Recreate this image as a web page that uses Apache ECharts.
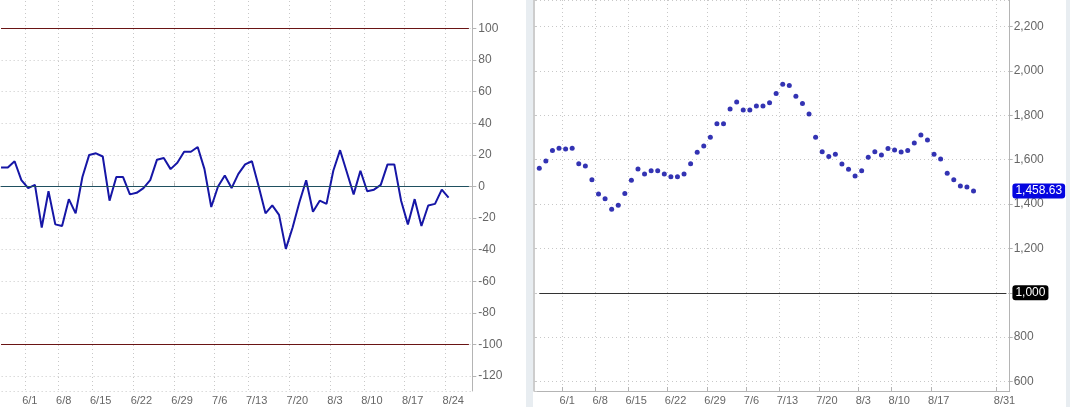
<!DOCTYPE html>
<html lang="en">
<head>
  <meta charset="UTF-8">
  <title>Oscillator and index</title>
  <script src="https://cdn.jsdelivr.net/npm/echarts@6/dist/echarts.min.js"></script>
  <style>
    html, body { margin: 0; padding: 0; background: #fff; }
    #chart { width: 1070px; height: 407px; }
  </style>
</head>
<body>
<div id="chart"></div>
<script>
  // ---- data ----
  const leftValues = [12, 12, 16, 4, -1, 1, -26, -3, -24, -25,
    -8, -17, 6, 20, 21, 19, -9, 6, 6, -5,
    -4, -1, 4, 17, 18, 11, 15, 22, 22, 25,
    11, -13, 0, 7, -1, 8, 14, 16, 0, -17,
    -12, -18, -39.5, -26, -10, 4, -16, -9, -11, 10,
    23, 9, -5, 10, -3, -2, 1, 14, 14, -9,
    -24, -8, -25, -12, -11, -2, -7];
  const rightValues = [1561, 1594, 1641, 1651, 1648, 1651, 1582, 1572, 1510, 1445,
    1424, 1376, 1394, 1448, 1507, 1558, 1535, 1550, 1550, 1535,
    1523, 1523, 1535, 1582, 1633, 1662, 1701, 1762, 1762, 1829,
    1860, 1824, 1824, 1842, 1842, 1857, 1898, 1940, 1934, 1886,
    1853, 1806, 1701, 1636, 1614, 1624, 1581, 1557, 1526, 1550,
    1611, 1636, 1621, 1650, 1644, 1635, 1641, 1675, 1711, 1689,
    1624, 1603, 1539, 1510, 1481, 1477, 1458.63];
  const leftTickAt = [4, 9, 14, 20, 26, 32, 37, 43, 49, 54, 60, 66];
  const leftTickLabels = ['6/1', '6/8', '6/15', '6/22', '6/29', '7/6', '7/13', '7/20', '8/3', '8/10', '8/17', '8/24'];
  const rightTickAt = [4, 9, 14, 20, 26, 32, 37, 43, 49, 54, 60, 70];
  const rightTickLabels = ['6/1', '6/8', '6/15', '6/22', '6/29', '7/6', '7/13', '7/20', '8/3', '8/10', '8/17', '8/31'];
  const leftBands = 70;
  const rightBands = 72;
  const bandLevels = [100, -100];
  const refLevel = 1000;

  const leftCats = Array.from({length: leftBands}, (_, i) => String(i));
  const rightCats = Array.from({length: rightBands}, (_, i) => String(i));
  const lastValue = rightValues[rightValues.length - 1];

  const font = '"Liberation Sans", Arial, sans-serif';
  const gridDots = {show: true, lineStyle: {color: '#c8c8c8', type: [1, 3], width: 1}};
  const axisGray = {show: true, lineStyle: {color: '#b4b4b4', width: 1}};

  function xAxisFor(gridIndex, cats, tickAt, labels) {
    const on = (i) => tickAt.indexOf(i) >= 0;
    return {
      type: 'category', gridIndex: gridIndex, data: cats, boundaryGap: true,
      axisLine: axisGray,
      axisTick: {show: true, interval: on, length: 4, inside: true, lineStyle: {color: '#b4b4b4'}},
      splitLine: Object.assign({interval: on}, gridDots),
      axisLabel: {
        interval: on, align: 'left', padding: [0, 0, 0, -6], margin: 4,
        color: '#666', fontSize: 11, fontFamily: font,
        formatter: (v, i) => labels[tickAt.indexOf(i)] || ''
      }
    };
  }

  const chart = echarts.init(document.getElementById('chart'));
  chart.setOption({
    animation: false,
    textStyle: {fontFamily: font},
    grid: [
      {left: -2.35, right: 597.7, top: -3, bottom: 16, outerBoundsMode: 'none', containLabel: false},
      {left: 536, right: 60.3, top: 0, bottom: 16, outerBoundsMode: 'none', containLabel: false}
    ],
    graphic: [
      {type: 'rect', shape: {x: 526, y: 0, width: 7, height: 407}, style: {fill: '#e8edf1'}, silent: true},
      {type: 'rect', shape: {x: 1066, y: 0, width: 4, height: 407}, style: {fill: '#e8edf1'}, silent: true}
    ],
    xAxis: [
      xAxisFor(0, leftCats, leftTickAt, leftTickLabels),
      xAxisFor(1, rightCats, rightTickAt, rightTickLabels)
    ],
    yAxis: [
      {
        type: 'value', gridIndex: 0, position: 'right', min: -129.5, max: 120, splitNumber: 12,
        axisLine: axisGray,
        axisTick: {show: true, length: 4, lineStyle: {color: '#b4b4b4'}},
        splitLine: gridDots,
        axisLabel: {color: '#666', fontSize: 12, margin: 6, fontFamily: font, showMinLabel: false}
      },
      {
        type: 'value', gridIndex: 1, position: 'right', min: 557, max: 2320, splitNumber: 8,
        axisLine: axisGray,
        axisTick: {show: true, length: 3, lineStyle: {color: '#b4b4b4'}},
        splitLine: gridDots,
        axisLabel: {
          color: '#666', fontSize: 12, margin: 4, fontFamily: font,
          showMinLabel: false, showMaxLabel: false,
          formatter: (v) => v.toLocaleString('en-US')
        }
      },
      {
        type: 'value', gridIndex: 1, position: 'left', min: 557, max: 2320, splitNumber: 8, offset: 2,
        axisLine: {show: true, lineStyle: {color: '#bdbdbd', width: 1.5}},
        axisTick: {show: true, inside: true, length: 3, lineStyle: {color: '#c8c8c8'}},
        axisLabel: {show: false},
        splitLine: {show: false}
      }
    ],
    series: [
      {
        type: 'line', xAxisIndex: 0, yAxisIndex: 0, data: leftValues,
        showSymbol: false, lineStyle: {color: '#1616a6', width: 2}, z: 3,
        markLine: {
          silent: true, symbol: 'none', label: {show: false},
          data: bandLevels.map((lv) => [
            {coord: [0, lv], lineStyle: {color: '#6a1414', width: 1, type: 'solid'}},
            {coord: [leftBands - 1, lv]}
          ]).concat([[
            {coord: [0, 0], lineStyle: {color: '#1f5060', width: 1, type: 'solid'}},
            {coord: [leftBands - 1, 0]}
          ]])
        }
      },
      {
        type: 'scatter', xAxisIndex: 1, yAxisIndex: 1, data: rightValues,
        symbolSize: 5, itemStyle: {color: '#0000a0'}, z: 3,
        markLine: {
          silent: true, symbol: 'none',
          data: [
            [
              {
                coord: [0, refLevel], lineStyle: {color: '#333', width: 1, type: 'solid'},
                label: {
                  show: true, position: 'end', distance: 6, formatter: '1,000',
                  color: '#fff', backgroundColor: '#000', borderRadius: 3, padding: [2, 3, 1, 3],
                  fontSize: 12, fontFamily: font
                }
              },
              {coord: [rightBands - 1, refLevel]}
            ],
            [
              {
                coord: [rightValues.length - 1, lastValue],
                lineStyle: {color: 'rgba(0,0,0,0)', width: 0},
                label: {
                  show: true, position: 'end', distance: 6,
                  formatter: lastValue.toLocaleString('en-US', {minimumFractionDigits: 2}),
                  color: '#fff', backgroundColor: '#0505e0', borderRadius: 3, padding: [2, 3, 1, 3],
                  fontSize: 12, fontFamily: font
                }
              },
              {coord: [rightBands - 1, lastValue]}
            ]
          ]
        }
      }
    ]
  });
</script>
</body>
</html>
